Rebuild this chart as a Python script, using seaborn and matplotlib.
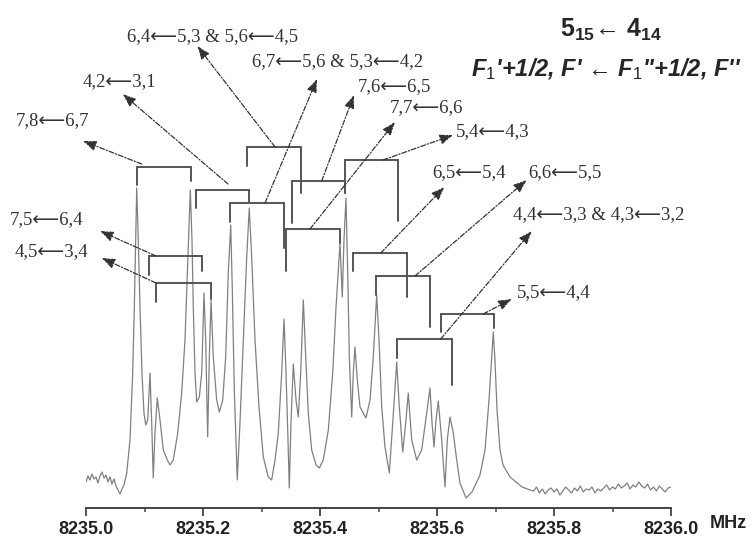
import numpy as np
import pandas as pd
import matplotlib
matplotlib.use("Agg")
import matplotlib.pyplot as plt
import seaborn as sns

# ---------------------------------------
# Spectrum trace (digitised), MHz and arbitrary intensity
# ---------------------------------------
freq = [
    8235.0000, 8235.0034, 8235.0068, 8235.0103, 8235.0137, 8235.0171, 8235.0205, 8235.0239,
    8235.0274, 8235.0308, 8235.0342, 8235.0376, 8235.0410, 8235.0444, 8235.0479, 8235.0513,
    8235.0547, 8235.0581, 8235.0615, 8235.0650, 8235.0696, 8235.0752, 8235.0798, 8235.0826,
    8235.0850, 8235.0867, 8235.0894, 8235.0923, 8235.0957, 8235.0991, 8235.1021, 8235.1055,
    8235.1094, 8235.1123, 8235.1150, 8235.1179, 8235.1219, 8235.1265, 8235.1321, 8235.1390,
    8235.1436, 8235.1492, 8235.1568, 8235.1636, 8235.1692, 8235.1732, 8235.1766, 8235.1783,
    8235.1812, 8235.1834, 8235.1863, 8235.1892, 8235.1937, 8235.1978, 8235.2017, 8235.2046,
    8235.2080, 8235.2108, 8235.2137, 8235.2176, 8235.2234, 8235.2279, 8235.2337, 8235.2388,
    8235.2432, 8235.2474, 8235.2501, 8235.2535, 8235.2586, 8235.2632, 8235.2689, 8235.2747,
    8235.2791, 8235.2832, 8235.2889, 8235.2957, 8235.3031, 8235.3116, 8235.3174, 8235.3231,
    8235.3287, 8235.3345, 8235.3385, 8235.3419, 8235.3453, 8235.3475, 8235.3504, 8235.3544,
    8235.3590, 8235.3629, 8235.3670, 8235.3715, 8235.3756, 8235.3800, 8235.3858, 8235.3932,
    8235.3988, 8235.4056, 8235.4142, 8235.4217, 8235.4274, 8235.4342, 8235.4381, 8235.4410,
    8235.4444, 8235.4474, 8235.4501, 8235.4542, 8235.4569, 8235.4598, 8235.4638, 8235.4684,
    8235.4786, 8235.4855, 8235.4911, 8235.4969, 8235.5009, 8235.5055, 8235.5111, 8235.5185,
    8235.5243, 8235.5311, 8235.5356, 8235.5414, 8235.5465, 8235.5509, 8235.5568, 8235.5653,
    8235.5738, 8235.5824, 8235.5880, 8235.5915, 8235.5949, 8235.5983, 8235.6022, 8235.6080,
    8235.6137, 8235.6176, 8235.6222, 8235.6279, 8235.6337, 8235.6393, 8235.6496, 8235.6598,
    8235.6735, 8235.6821, 8235.6889, 8235.6932, 8235.6962, 8235.6991, 8235.7026, 8235.7077,
    8235.7128, 8235.7248, 8235.7350, 8235.7453, 8235.7590,
    8235.765, 8235.770, 8235.775, 8235.780, 8235.785, 8235.790, 8235.795, 8235.800,
    8235.805, 8235.810, 8235.815, 8235.820, 8235.825, 8235.830, 8235.835, 8235.840,
    8235.845, 8235.850, 8235.855, 8235.860, 8235.865, 8235.870, 8235.875, 8235.880,
    8235.885, 8235.890, 8235.895, 8235.900, 8235.905, 8235.910, 8235.915, 8235.920,
    8235.925, 8235.930, 8235.935, 8235.940, 8235.945, 8235.950, 8235.955, 8235.960,
    8235.965, 8235.970, 8235.975, 8235.980, 8235.985, 8235.990, 8235.995, 8236.000,
]
intensity = [
    26, 32, 28, 34, 29, 31, 25, 32,
    36, 30, 33, 26, 31, 24, 29, 22,
    18, 14, 19, 23, 35, 68, 135, 201,
    268, 320, 268, 201, 135, 95, 83, 88,
    135, 85, 30, 75, 110, 88, 58, 48,
    43, 48, 75, 115, 168, 235, 295, 318,
    268, 201, 135, 106, 111, 135, 215, 168,
    71, 151, 208, 151, 108, 96, 108, 151,
    235, 283, 218, 118, 28, 85, 168, 251,
    300, 251, 168, 101, 51, 31, 28, 48,
    75, 135, 189, 135, 68, 20, 85, 144,
    108, 91, 135, 208, 151, 95, 58, 43,
    40, 48, 78, 135, 201, 265, 211, 268,
    310, 235, 151, 91, 135, 161, 128, 101,
    90, 108, 151, 213, 168, 101, 61, 35,
    85, 146, 101, 56, 85, 115, 68, 48,
    58, 95, 120, 85, 61, 88, 107, 68,
    21, 68, 91, 75, 48, 25, 10, 16,
    33, 58, 108, 148, 176, 148, 98, 58,
    43, 31, 26, 21, 18,
    17, 21, 15, 19, 14, 18, 20, 16,
    19, 13, 17, 21, 18, 15, 20, 17,
    22, 16, 19, 18, 21, 15, 19, 17,
    20, 23, 18, 21, 19, 24, 20, 22,
    25, 19, 23, 21, 26, 22, 20, 24,
    18, 21, 17, 22, 19, 16, 20, 21,
]

# ---------------------------------------
# Hyperfine assignments: label and the two component frequencies (MHz)
# ---------------------------------------
ARR = "\u27f5"
labels = [
    f"7,8{ARR}6,7", f"4,2{ARR}3,1", f"6,4{ARR}5,3 & 5,6{ARR}4,5",
    f"7,6{ARR}6,5", f"5,4{ARR}4,3", f"6,7{ARR}5,6 & 5,3{ARR}4,2",
    f"7,7{ARR}6,6", f"6,5{ARR}5,4", f"6,6{ARR}5,5", f"5,5{ARR}4,4",
    f"4,4{ARR}3,3 & 4,3{ARR}3,2", f"7,5{ARR}6,4", f"4,5{ARR}3,4",
]
comp_lo = [8235.0872, 8235.1875, 8235.2747, 8235.3521, 8235.4427, 8235.2462, 8235.3414,
           8235.4559, 8235.4952, 8235.6063, 8235.5321, 8235.1082, 8235.1197]
comp_hi = [8235.1795, 8235.2786, 8235.3675, 8235.4427, 8235.5333, 8235.3385, 8235.4342,
           8235.5482, 8235.5880, 8235.6979, 8235.6256, 8235.1988, 8235.2132]

# layout of brackets / arrows / labels (data coords)
br_top = [341, 318, 361, 327, 348, 305, 279, 255, 232, 194, 169, 252, 225]
leg_lo = [323, 300, 342, 285, 315, 286, 237, 237, 213, 176, 150, 233, 206]
leg_hi = [327, 306, 315, 315, 287, 260, 265, 211, 181, 180, 123, 237, 209]
arrow_tail = [(0.0952, 344), (0.2427, 324), (0.3231, 361), (0.4029, 327), (0.5077, 348),
              (0.3060, 305), (0.3829, 279), (0.5038, 255), (0.5624, 232), (0.6791, 194),
              (0.6063, 169), (0.1197, 252), (0.1197, 225)]
arrow_tip = [(-0.0051, 367), (0.0627, 414), (0.1903, 462), (0.4581, 413), (0.6274, 373),
             (0.3949, 429), (0.5282, 386), (0.6125, 321), (0.7533, 328), (0.7277, 209),
             (0.7619, 277), (0.0239, 277), (0.0268, 250)]
label_pos = [(-0.1197, 387), (-0.0051, 426), (0.0701, 471), (0.4650, 421), (0.6325, 376),
             (0.2838, 446), (0.5197, 400), (0.5915, 335), (0.7556, 335), (0.7368, 215),
             (0.7299, 293), (-0.1299, 288), (-0.1214, 256)]

sns.set_style("white")
plt.rcParams["font.family"] = ["Liberation Sans", "DejaVu Sans"]
plt.rcParams["mathtext.fontset"] = "custom"
plt.rcParams["mathtext.bf"] = "Liberation Sans:bold"
plt.rcParams["mathtext.it"] = "Liberation Sans:bold:italic"
plt.rcParams["mathtext.rm"] = "Liberation Sans"

fig = plt.figure(figsize=(7.55, 5.37), dpi=100)
ax = fig.add_axes([86 / 755, 29 / 537, 585 / 755, 508 / 537])

df = pd.DataFrame({"freq": freq, "intensity": intensity})
sns.lineplot(data=df, x="freq", y="intensity", ax=ax, color="#808080", lw=0.9,
             sort=False, estimator=None)

bcol = "#555555"
acol = "#333333"
for i in range(len(labels)):
    f1, f2 = comp_lo[i], comp_hi[i]
    ax.plot([f1, f1, f2, f2], [leg_lo[i], br_top[i], br_top[i], leg_hi[i]],
            color=bcol, lw=1.4, solid_joinstyle="miter", clip_on=False)
    tx, ty = arrow_tail[i]
    hx, hy = arrow_tip[i]
    ax.annotate("", xy=(8235 + hx, hy), xytext=(8235 + tx, ty),
                annotation_clip=False,
                arrowprops=dict(arrowstyle="-|>,head_length=0.8,head_width=0.3",
                                color=acol, lw=0.9, linestyle=(0, (4, 1.5, 1, 1.5)),
                                shrinkA=0, shrinkB=0, mutation_scale=10))
    lx, ly = label_pos[i]
    ax.text(8235 + lx, ly, labels[i], ha="left", va="center", fontsize=13.5,
            family=["Liberation Serif", "DejaVu Sans"], color="#333333", clip_on=False)

ax.set_xlim(8235.0, 8236.0)
ax.set_ylim(0, 508)
ax.set_xticks([8235.0, 8235.2, 8235.4, 8235.6, 8235.8, 8236.0])
ax.set_xticks([8235.1, 8235.3, 8235.5, 8235.7, 8235.9], minor=True)
ax.set_xticklabels(["8235.0", "8235.2", "8235.4", "8235.6", "8235.8", "8236.0"],
                   fontsize=13, fontweight="bold", color="#222222")
ax.tick_params(axis="x", which="major", direction="out", length=6, width=1.3,
               color="#444444", pad=3, bottom=True)
ax.tick_params(axis="x", which="minor", direction="out", length=3, width=1.1,
               color="#444444", bottom=True)
ax.set_yticks([])
ax.set_xlabel("")
ax.set_ylabel("")
for s in ["top", "left", "right"]:
    ax.spines[s].set_visible(False)
ax.spines["bottom"].set_color("#444444")
ax.spines["bottom"].set_linewidth(1.4)
ax.patch.set_alpha(0)

fig.text(710 / 755, 1 - 523 / 537, "MHz", fontsize=13, fontweight="bold",
         color="#222222", ha="left", va="center")
fig.text(611 / 755, 1 - 37 / 537, "5$_{\\mathbf{15}}$\u2190 4$_{\\mathbf{14}}$",
         fontsize=18, fontweight="bold", ha="center", va="baseline")
fig.text(606 / 755, 1 - 76 / 537,
         r"F$_{\mathit{1}}$'+1/2, F' " + "\u2190" + r" F$_{\mathit{1}}$''+1/2, F''",
         fontsize=17, fontweight="bold", fontstyle="italic", ha="center", va="baseline")

fig.savefig("out.png", dpi=100)
